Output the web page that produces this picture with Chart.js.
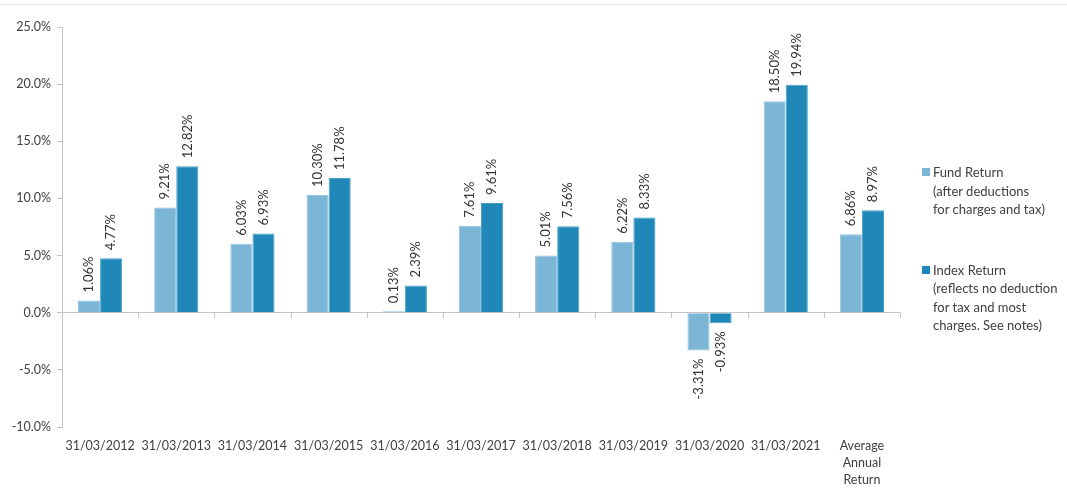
<!DOCTYPE html>
<html>
<head>
<meta charset="utf-8">
<script src="https://cdn.jsdelivr.net/npm/chart.js@4"></script>
<style>
  body { margin: 0; background: #fff; font-family: Lato, "Open Sans", sans-serif; }
  #wrap { position: relative; width: 1067px; height: 491px; }
  #topLine { position: absolute; left: 0; top: 4px; width: 1067px; height: 1px; background: #e3e3e3; }
  #chartBox { position: absolute; left: 0; top: 0; width: 1067px; height: 491px; }
  #legend { position: absolute; left: 922px; top: 163px; font-size: 13px; line-height: 18.5px; color: #404040; }
  .item { position: relative; padding-left: 11px; margin-bottom: 42px; }
  .swatch { position: absolute; left: 0; top: 5px; width: 8px; height: 8px; }
</style>
</head>
<body>
<div id="wrap">
  <div id="topLine"></div>
  <div id="chartBox"><canvas id="returnsChart"></canvas></div>
  <div id="legend"></div>
</div>
<script>
const categories = [
  "31/03/2012", "31/03/2013", "31/03/2014", "31/03/2015", "31/03/2016",
  "31/03/2017", "31/03/2018", "31/03/2019", "31/03/2020", "31/03/2021",
  ["Average", "Annual", "Return"]
];
const fundReturn = [1.06, 9.21, 6.03, 10.30, 0.13, 7.61, 5.01, 6.22, -3.31, 18.50, 6.86];
const indexReturn = [4.77, 12.82, 6.93, 11.78, 2.39, 9.61, 7.56, 8.33, -0.93, 19.94, 8.97];

const fundLegend = ["Fund Return", "(after deductions", "for charges and tax)"];
const indexLegend = ["Index Return", "(reflects no deduction", "for tax and most", "charges. See notes)"];

const fundColor = "#7bb6d7";
const indexColor = "#1f88b8";
const axisColor = "#c4c4c4";
const textColor = "#404040";
const fontFamily = "Lato, 'Open Sans', sans-serif";

/* ---------- LEGEND ---------- */
const legendEl = document.getElementById("legend");
[[fundColor, fundLegend], [indexColor, indexLegend]].forEach(([color, lines]) => {
  const div = document.createElement("div");
  div.className = "item";
  div.innerHTML = `<span class="swatch" style="background:${color}"></span>` + lines.join("<br>");
  legendEl.appendChild(div);
});

/* ---------- VALUE LABELS + ZERO LINE TICKS ---------- */
const barLabels = {
  id: "barLabels",
  afterDatasetsDraw(chart) {
    const ctx = chart.ctx;
    const x = chart.scales.x;
    const y = chart.scales.y;
    const y0 = y.getPixelForValue(0);

    // small tick marks hanging under the zero line between categories
    ctx.save();
    ctx.strokeStyle = axisColor;
    ctx.lineWidth = 1;
    for (let i = 0; i <= categories.length; i++) {
      const px = Math.round(x.getPixelForValue(i - 0.5)) + 0.5;
      ctx.beginPath();
      ctx.moveTo(px, y0);
      ctx.lineTo(px, y0 + 5);
      ctx.stroke();
    }
    ctx.restore();

    ctx.save();
    ctx.font = "13px " + fontFamily;
    ctx.fillStyle = "#333";
    ctx.textBaseline = "middle";
    chart.data.datasets.forEach((ds, di) => {
      chart.getDatasetMeta(di).data.forEach((bar, i) => {
        const v = ds.data[i];
        ctx.save();
        ctx.translate(bar.x, bar.y);
        ctx.rotate(-Math.PI / 2);
        if (v >= 0) {
          ctx.textAlign = "left";
          ctx.fillText(v.toFixed(2) + "%", 8, 0);
        } else {
          ctx.textAlign = "right";
          ctx.fillText(v.toFixed(2) + "%", -8, 0);
        }
        ctx.restore();
      });
    });
    ctx.restore();
  }
};

/* ---------- CHART ---------- */
new Chart(document.getElementById("returnsChart"), {
  type: "bar",
  data: {
    labels: categories,
    datasets: [
      { label: "Fund Return", data: fundReturn, backgroundColor: fundColor, borderColor: "#93c4df" },
      { label: "Index Return", data: indexReturn, backgroundColor: indexColor, borderColor: "#4a9fc7" }
    ]
  },
  options: {
    responsive: true,
    maintainAspectRatio: false,
    animation: false,
    datasets: {
      bar: { categoryPercentage: 0.58, barPercentage: 1.0, borderWidth: 1 }
    },
    layout: { padding: { top: 27, right: 167, bottom: 1, left: 0 } },
    plugins: {
      legend: { display: false },
      tooltip: { enabled: false }
    },
    scales: {
      x: {
        grid: { display: false },
        border: { display: false },
        ticks: {
          color: textColor,
          font: { family: fontFamily, size: 12.5, lineHeight: 1.36 },
          maxRotation: 0,
          autoSkip: false,
          padding: 2
        }
      },
      y: {
        min: -10,
        max: 25,
        afterFit(scale) { scale.width = 62; },
        border: { display: true, color: axisColor },
        grid: {
          drawOnChartArea: true,
          color: ctx => ctx.tick && ctx.tick.value === 0 ? axisColor : "transparent",
          tickColor: axisColor,
          tickLength: 5
        },
        ticks: {
          stepSize: 5,
          color: textColor,
          font: { family: fontFamily, size: 12.5 },
          padding: 6,
          callback: v => v.toFixed(1) + "%"
        }
      }
    }
  },
  plugins: [barLabels]
});
</script>
</body>
</html>
